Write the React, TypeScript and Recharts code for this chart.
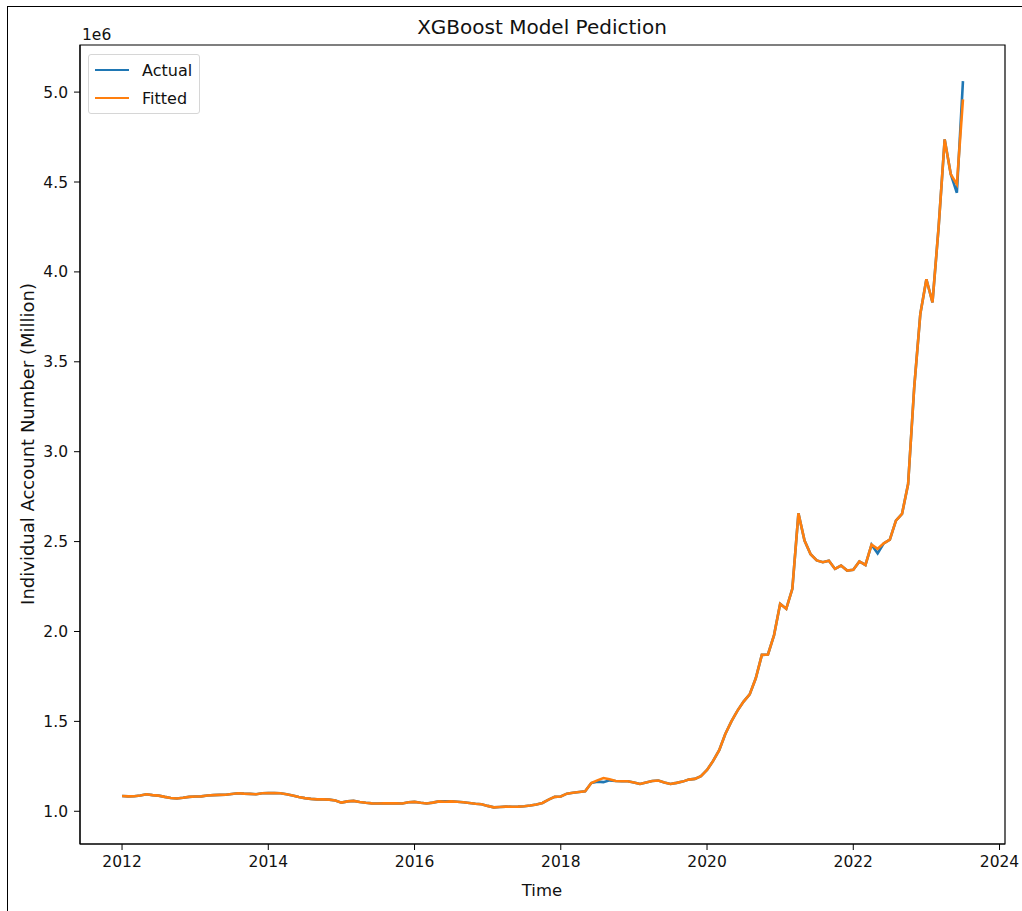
import { Line, LineChart, ReferenceArea, XAxis, YAxis } from 'recharts';

// Monthly series, Jan 2012 .. Jul 2023, values in millions (axis shows 1e6 offset)
const START_YEAR = 2012;

const actual = [
  // 2012
  1.085, 1.083, 1.084, 1.088, 1.095, 1.09, 1.087, 1.08, 1.074, 1.071, 1.075, 1.08,
  // 2013
  1.082, 1.083, 1.088, 1.09, 1.091, 1.092, 1.096, 1.1, 1.098, 1.097, 1.095, 1.1,
  // 2014
  1.102, 1.101, 1.1, 1.095, 1.088, 1.079, 1.073, 1.069, 1.066, 1.066, 1.065, 1.06,
  // 2015
  1.048, 1.055, 1.058, 1.052, 1.047, 1.044, 1.043, 1.044, 1.045, 1.044, 1.043, 1.05,
  // 2016
  1.052, 1.047, 1.043, 1.048, 1.055, 1.056, 1.055, 1.053, 1.05, 1.046, 1.042, 1.039,
  // 2017
  1.03, 1.022, 1.024, 1.026, 1.025, 1.026, 1.028, 1.032, 1.038, 1.046, 1.065, 1.08,
  // 2018
  1.082, 1.098, 1.103, 1.107, 1.111, 1.157, 1.165, 1.162, 1.172, 1.168, 1.167, 1.167,
  // 2019
  1.16, 1.152, 1.16, 1.168, 1.171, 1.16, 1.152, 1.158, 1.165, 1.176, 1.18, 1.195,
  // 2020
  1.23, 1.28, 1.34, 1.43, 1.5, 1.56, 1.61, 1.65, 1.74, 1.87, 1.872, 1.98,
  // 2021
  2.154, 2.126, 2.237, 2.657, 2.506, 2.43, 2.395, 2.385, 2.394, 2.348, 2.367, 2.339,
  // 2022
  2.343, 2.39, 2.37, 2.483, 2.435, 2.49, 2.511, 2.617, 2.654, 2.82, 3.357, 3.765,
  // 2023
  3.959, 3.83, 4.246, 4.737, 4.543, 4.44, 5.061,
];

const fitted = [
  1.085, 1.083, 1.084, 1.088, 1.095, 1.09, 1.087, 1.08, 1.074, 1.071, 1.075, 1.08,
  1.082, 1.083, 1.088, 1.09, 1.091, 1.092, 1.096, 1.1, 1.098, 1.097, 1.095, 1.1,
  1.102, 1.101, 1.1, 1.095, 1.088, 1.079, 1.073, 1.069, 1.066, 1.066, 1.065, 1.06,
  1.048, 1.055, 1.058, 1.052, 1.047, 1.044, 1.043, 1.044, 1.045, 1.044, 1.043, 1.05,
  1.052, 1.047, 1.043, 1.048, 1.055, 1.053, 1.055, 1.053, 1.05, 1.046, 1.042, 1.039,
  1.03, 1.022, 1.024, 1.026, 1.025, 1.026, 1.028, 1.032, 1.038, 1.046, 1.065, 1.08,
  1.082, 1.098, 1.103, 1.107, 1.111, 1.157, 1.172, 1.185, 1.178, 1.168, 1.167, 1.167,
  1.16, 1.152, 1.16, 1.168, 1.171, 1.16, 1.152, 1.158, 1.165, 1.176, 1.18, 1.195,
  1.23, 1.28, 1.34, 1.43, 1.5, 1.56, 1.61, 1.65, 1.74, 1.87, 1.872, 1.98,
  2.154, 2.126, 2.237, 2.657, 2.506, 2.43, 2.395, 2.385, 2.394, 2.348, 2.367, 2.339,
  2.343, 2.39, 2.37, 2.483, 2.46, 2.49, 2.511, 2.617, 2.654, 2.82, 3.357, 3.765,
  3.959, 3.83, 4.246, 4.737, 4.543, 4.487, 4.96,
];

const xTicks = [2012, 2014, 2016, 2018, 2020, 2022, 2024];
const yTicks = [1.0, 1.5, 2.0, 2.5, 3.0, 3.5, 4.0, 4.5, 5.0];

const X_DOMAIN: [number, number] = [2011.425, 2024.075];
const Y_DOMAIN: [number, number] = [0.818, 5.262];

const BLUE = '#1f77b4';
const ORANGE = '#ff7f0e';
const FONT = '"DejaVu Sans", sans-serif';

const data = actual.map((v, i) => ({ t: START_YEAR + i / 12, actual: v, fitted: fitted[i] }));

function LegendBox() {
  const items = [
    { name: 'Actual', color: BLUE },
    { name: 'Fitted', color: ORANGE },
  ];
  return (
    <div
      style={{
        position: 'absolute',
        left: 88,
        top: 54,
        width: 112,
        height: 60,
        border: '1px solid #d6d6d6',
        borderRadius: 3,
        background: 'rgba(255,255,255,0.8)',
        fontFamily: FONT,
        fontSize: 16,
        color: '#111',
        boxSizing: 'border-box',
      }}
    >
      {items.map((it, k) => (
        <div key={it.name} style={{ position: 'absolute', left: 6, top: 4 + k * 28, height: 22, display: 'flex', alignItems: 'center' }}>
          <span style={{ display: 'inline-block', width: 34, height: 2.5, background: it.color }} />
          <span style={{ marginLeft: 13 }}>{it.name}</span>
        </div>
      ))}
    </div>
  );
}

export default function App() {
  return (
    <div style={{ position: 'absolute', left: 0, top: 0, width: 1022, height: 911, background: '#fff', overflow: 'hidden' }}>
      {/* outer frame of the screenshot */}
      <div style={{ position: 'absolute', left: 7, top: 6, right: 0, bottom: 0, borderLeft: '1.5px solid #000', borderTop: '1.5px solid #000' }} />
      <LineChart
        width={1022}
        height={911}
        data={data}
        margin={{ top: 45, right: 17, bottom: 37, left: 0 }}
        style={{ position: 'absolute', left: 0, top: 0 }}
      >
        <XAxis
          dataKey="t"
          type="number"
          domain={X_DOMAIN}
          ticks={xTicks}
          allowDataOverflow
          height={30}
          tickSize={6}
          tickMargin={6}
          stroke="#000"
          tick={{ fill: '#111', fontSize: 15.5, fontFamily: FONT }}
          tickFormatter={(v: number) => String(v)}
        />
        <YAxis
          type="number"
          domain={Y_DOMAIN}
          ticks={yTicks}
          allowDataOverflow
          width={80}
          tickSize={6}
          tickMargin={6}
          stroke="#000"
          tick={{ fill: '#111', fontSize: 15.5, fontFamily: FONT }}
          tickFormatter={(v: number) => v.toFixed(1)}
        />
        <ReferenceArea
          x1={X_DOMAIN[0]}
          x2={X_DOMAIN[1]}
          y1={Y_DOMAIN[0]}
          y2={Y_DOMAIN[1]}
          fill="none"
          stroke="#000"
          strokeWidth={1.2}
          ifOverflow="visible"
        />
        <Line type="linear" dataKey="actual" name="Actual" stroke={BLUE} strokeWidth={2.6} dot={false} isAnimationActive={false} />
        <Line type="linear" dataKey="fitted" name="Fitted" stroke={ORANGE} strokeWidth={2.6} dot={false} isAnimationActive={false} />
      </LineChart>
      <LegendBox />
      <svg width={1022} height={911} style={{ position: 'absolute', left: 0, top: 0, pointerEvents: 'none' }}>
        <text x={542} y={34} textAnchor="middle" fontFamily={FONT} fontSize={20} fill="#111">
          XGBoost Model Pediction
        </text>
        <text x={82} y={40} fontFamily={FONT} fontSize={15.5} fill="#111">
          1e6
        </text>
        <text x={542} y={896} textAnchor="middle" fontFamily={FONT} fontSize={16.5} fill="#111">
          Time
        </text>
        <text
          x={0}
          y={0}
          transform="translate(34,444) rotate(-90)"
          textAnchor="middle"
          fontFamily={FONT}
          fontSize={18}
          fill="#111"
        >
          Individual Account Number (Million)
        </text>
      </svg>
    </div>
  );
}
